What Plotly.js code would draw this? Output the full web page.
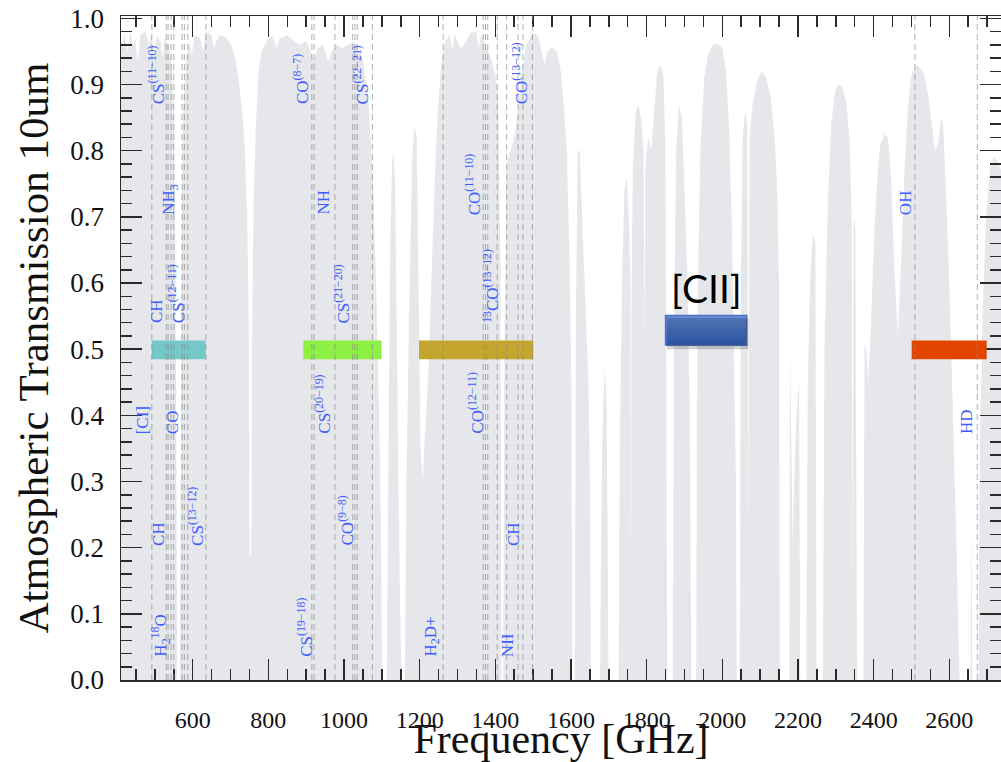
<!DOCTYPE html>
<html>
<head>
<meta charset="utf-8">
<script src="https://cdn.plot.ly/plotly-3.0.1.min.js"></script>
<style>html,body{margin:0;padding:0;background:#fff;}#chart{width:1001px;height:762px;}</style>
</head>
<body>
<div id="chart"></div>
<script>
// Atmospheric transmission spectrum (GHz, transmission)
const freq = [410,420,428,435,442,448,455,462,475,485,490,498,505,515,520,525,535,543,550,554,557,559,566,568,571,575,581,590,598,605,620,628,635,650,656,662,672,690,702,712,722,731,738,744,748,750.5,755,757.5,761,767,774,782,795,810,822,830,850,870,885,900,912,920,930,945,958,968,980,995,1010,1025,1038,1050,1064,1077,1086,1093,1098,1101,1113,1117,1122,1127,1131,1135,1139,1144,1148,1152,1161,1165,1172,1180,1186,1192,1197,1202,1208,1215,1224,1232,1240,1248,1257,1267,1280,1286,1292,1300,1310,1322,1335,1350,1356,1362,1375,1388,1400,1408,1413,1416,1421,1424,1430,1440,1450,1460,1470,1482,1495,1505,1515,1524,1530,1538,1550,1562,1572,1580,1589,1596,1601,1603.5,1610,1613,1618,1623,1630,1640,1646,1650,1653,1677,1680,1685,1690,1694,1697,1699,1726,1729,1735,1741,1747,1753,1757,1758.5,1760,1764,1771,1778,1785,1792,1795,1797,1804,1812,1820,1828,1836,1844,1849,1852,1854,1869,1872,1878,1886,1893,1900,1908,1914,1918,1931,1934,1942,1952,1962,1975,1988,2000,2010,2018,2025,2031,2036,2038,2046,2049,2054,2060,2066,2069,2072,2080,2092,2104,2116,2128,2138,2145,2150,2152,2177,2179,2182,2186,2190,2196,2203,2206,2222,2226,2233,2240,2246,2249,2266,2270,2279,2288,2298,2308,2318,2328,2336,2342,2344,2347,2352,2356,2373,2376,2381,2386,2394,2402,2410,2418,2428,2438,2446,2455,2464,2472,2481,2490,2500,2512,2524,2534,2544,2553,2562,2570,2578,2584,2590,2597,2605,2612,2619,2624,2627,2656,2658.5,2661,2677,2681,2688,2697,2707,2717,2727,2737];
const trans = [0.955,0.975,0.95,0.98,0.96,0.97,0.935,0.975,0.98,0.96,0.975,0.945,0.975,0.965,0.94,0.97,0.96,0.94,0.86,0.65,0.3,0.0,0.0,0.35,0.7,0.86,0.93,0.965,0.945,0.975,0.97,0.95,0.98,0.975,0.955,0.965,0.975,0.97,0.96,0.94,0.905,0.86,0.80,0.70,0.55,0.19,0.19,0.55,0.72,0.84,0.92,0.95,0.965,0.975,0.955,0.97,0.975,0.965,0.96,0.965,0.95,0.935,0.955,0.96,0.935,0.95,0.96,0.955,0.96,0.965,0.955,0.935,0.88,0.75,0.57,0.40,0.2,0.0,0.0,0.35,0.65,0.78,0.80,0.75,0.5,0.3,0.12,0.0,0.0,0.3,0.55,0.78,0.84,0.82,0.6,0.35,0.3,0.38,0.48,0.62,0.76,0.86,0.93,0.965,0.975,0.95,0.975,0.965,0.955,0.965,0.978,0.98,0.955,0.975,0.96,0.94,0.915,0.88,0.65,0.0,0.0,0.5,0.78,0.80,0.82,0.86,0.92,0.96,0.975,0.978,0.97,0.945,0.93,0.95,0.957,0.95,0.925,0.876,0.80,0.64,0.45,0.0,0.0,0.55,0.80,0.80,0.68,0.54,0.45,0.3,0.0,0.0,0.25,0.42,0.47,0.42,0.2,0.0,0.0,0.35,0.6,0.74,0.76,0.70,0.6,0.1,0.6,0.78,0.86,0.87,0.85,0.80,0.5,0.78,0.82,0.80,0.86,0.92,0.93,0.915,0.82,0.5,0.0,0.0,0.5,0.80,0.87,0.85,0.74,0.6,0.4,0.0,0.0,0.55,0.80,0.91,0.945,0.96,0.962,0.955,0.92,0.83,0.69,0.5,0.3,0.0,0.0,0.6,0.82,0.86,0.84,0.2,0.82,0.87,0.905,0.92,0.91,0.88,0.82,0.74,0.6,0.0,0.0,0.507,0.35,0.2,0.3,0.4,0.455,0.0,0.0,0.45,0.62,0.675,0.66,0.0,0.0,0.5,0.72,0.84,0.89,0.90,0.895,0.87,0.82,0.70,0.1,0.70,0.68,0.0,0.0,0.51,0.5,0.45,0.55,0.68,0.76,0.81,0.825,0.82,0.76,0.62,0.52,0.62,0.76,0.86,0.915,0.93,0.925,0.915,0.885,0.84,0.80,0.81,0.85,0.84,0.76,0.65,0.50,0.36,0.2,0.08,0.0,0.0,0.25,0.0,0.0,0.35,0.55,0.70,0.77,0.79,0.785,0.77];

// Molecular line frequencies (dashed markers)
const lineFreqs = [492,530,535,543,550,572,578,587,635,915,921,976,1023,1029,1035,1075,1262,1368,1374,1380,1405,1430,1460,1473,1498,2509,2674];

// Line labels: text, frequency of label centre, transmission at label foot
const labelText = ['CS<sup>(11−10)</sup>','NH<sub>3</sub>','CH','CS<sup>(12−11)</sup>','CO<sup>(8−7)</sup>','NH','CS<sup>(21−20)</sup>','CS<sup>(22−21)</sup>','CO<sup>(11−10)</sup>','<sup>13</sup>CO<sup>(13−12)</sup>','CO<sup>(13−12)</sup>','OH','[CI]','CO','CS<sup>(20−19)</sup>','CO<sup>(12−11)</sup>','CH','CS<sup>(13−12)</sup>','CO<sup>(9−8)</sup>','CH','H<sub>2</sub><sup>18</sup>O','CS<sup>(19−18)</sup>','H<sub>2</sub>D+','NII','HD'];
const labelFreq = [504,541,505,556.6,888,945,994,1043.6,1339.6,1390,1465,2485,467.3,548.7,945.3,1348.4,509,608,1004.7,1447.5,515.7,898.2,1231.8,1434.3,2646];
const labelTrans = [0.867,0.70,0.536,0.536,0.867,0.70,0.536,0.867,0.70,0.536,0.867,0.70,0.369,0.369,0.369,0.369,0.20,0.20,0.20,0.20,0.032,0.032,0.032,0.032,0.369];

// Instrument bands (GHz) and their centre transmission level
const bandLo = [491.6,892.4,1198.2,2500.6];
const bandHi = [634.4,1099.6,1500.3,2698.9];
const bandLevel = [0.499,0.499,0.499,0.499];
const bandColor = ['#74c8c8','#8ef045','#c4a52d','#e34400'];
const ciiBand = [1850,2064.5];
const ciiLevel = 0.5285;
const ciiLabel = '[CII]';

const halfH = 0.0142;
const ciiHalf = 0.0225;

const shapes = [];
for (let i = 0; i < bandLo.length; i++) {
  shapes.push({type:'rect', xref:'x', yref:'y', x0:bandLo[i], x1:bandHi[i], y0:bandLevel[i]-halfH, y1:bandLevel[i]+halfH,
    fillcolor:bandColor[i], line:{width:0}, layer:'above'});
}
// shadow of the [CII] band
shapes.push({type:'rect', xref:'x', yref:'y', x0:ciiBand[0]+4, x1:ciiBand[1]+5, y0:ciiLevel-ciiHalf-0.006, y1:ciiLevel+ciiHalf-0.004,
  fillcolor:'rgba(0,0,0,0.18)', line:{width:0}, layer:'above'});
for (const f of lineFreqs) {
  shapes.push({type:'line', xref:'x', yref:'paper', x0:f, x1:f, y0:0, y1:1,
    line:{color:'rgba(140,140,140,0.7)', width:1, dash:'6px,4px'}, layer:'above'});
}

const annotations = labelText.map((t, i) => ({
  x: labelFreq[i], y: labelTrans[i], xref:'x', yref:'y', text:t, showarrow:false,
  textangle:-90, xanchor:'center', yanchor:'bottom',
  font:{family:'Liberation Serif, serif', size:17, color:'#3d5cff'}
}));
annotations.push({x:(ciiBand[0]+ciiBand[1])/2, y:0.592, xref:'x', yref:'y', text:ciiLabel, showarrow:false,
  xanchor:'center', yanchor:'middle', font:{family:'Lato, Noto Sans, sans-serif', size:39, color:'#000'}});

const traces = [
  {x:freq, y:trans, type:'scatter', mode:'lines', fill:'tozeroy', fillcolor:'#e6e7eb',
   line:{width:0, color:'#e6e7eb'}, hoverinfo:'skip', showlegend:false},
  {x:[ciiBand[0],ciiBand[1],ciiBand[1],ciiBand[0],ciiBand[0]],
   y:[ciiLevel-ciiHalf,ciiLevel-ciiHalf,ciiLevel+ciiHalf,ciiLevel+ciiHalf,ciiLevel-ciiHalf],
   type:'scatter', mode:'lines', fill:'toself',
   fillgradient:{type:'vertical', start:ciiLevel+ciiHalf, stop:ciiLevel-ciiHalf, colorscale:[[0,'#6890dc'],[1,'#3564c6']]},
   line:{color:'#4e72b8', width:1.5}, hoverinfo:'skip', showlegend:false}
];

const axisCommon = {
  showgrid:false, zeroline:false, showline:true, linecolor:'#2a2a2a', linewidth:1.5,
  ticks:'inside', ticklen:21, tickwidth:1.5, tickcolor:'#2a2a2a', mirror:'allticks',
};

const layout = {
  width:1001, height:762,
  margin:{l:121, r:0, t:16, b:82, pad:0},
  paper_bgcolor:'#fff', plot_bgcolor:'#fff',
  showlegend:false,
  xaxis: Object.assign({}, axisCommon, {
    range:[410.5, 2736.7], tickmode:'linear', tick0:0, dtick:200,
    minor:{dtick:50, ticklen:11, tickwidth:1.5, tickcolor:'#2a2a2a', ticks:'inside'},
    tickfont:{family:'Liberation Serif, serif', size:24, color:'#111'},
    ticklabelstandoff:18,
    title:{text:'Frequency [GHz]', font:{family:'Liberation Serif, serif', size:42, color:'#111'}, standoff:2}
  }),
  yaxis: Object.assign({}, axisCommon, {
    range:[0, 1.0036], tickmode:'linear', tick0:0, dtick:0.1, tickformat:'.1f',
    minor:{dtick:0.02, ticklen:11, tickwidth:1.5, tickcolor:'#2a2a2a', ticks:'inside'},
    tickfont:{family:'Liberation Serif, serif', size:27, color:'#111'},
    ticklabelstandoff:10,
    title:{text:'Atmospheric Transmission 10um', font:{family:'Liberation Serif, serif', size:43, color:'#111'}, standoff:8}
  }),
  shapes:shapes,
  annotations:annotations
};

Plotly.newPlot('chart', traces, layout, {staticPlot:true, displayModeBar:false});
</script>
</body>
</html>
